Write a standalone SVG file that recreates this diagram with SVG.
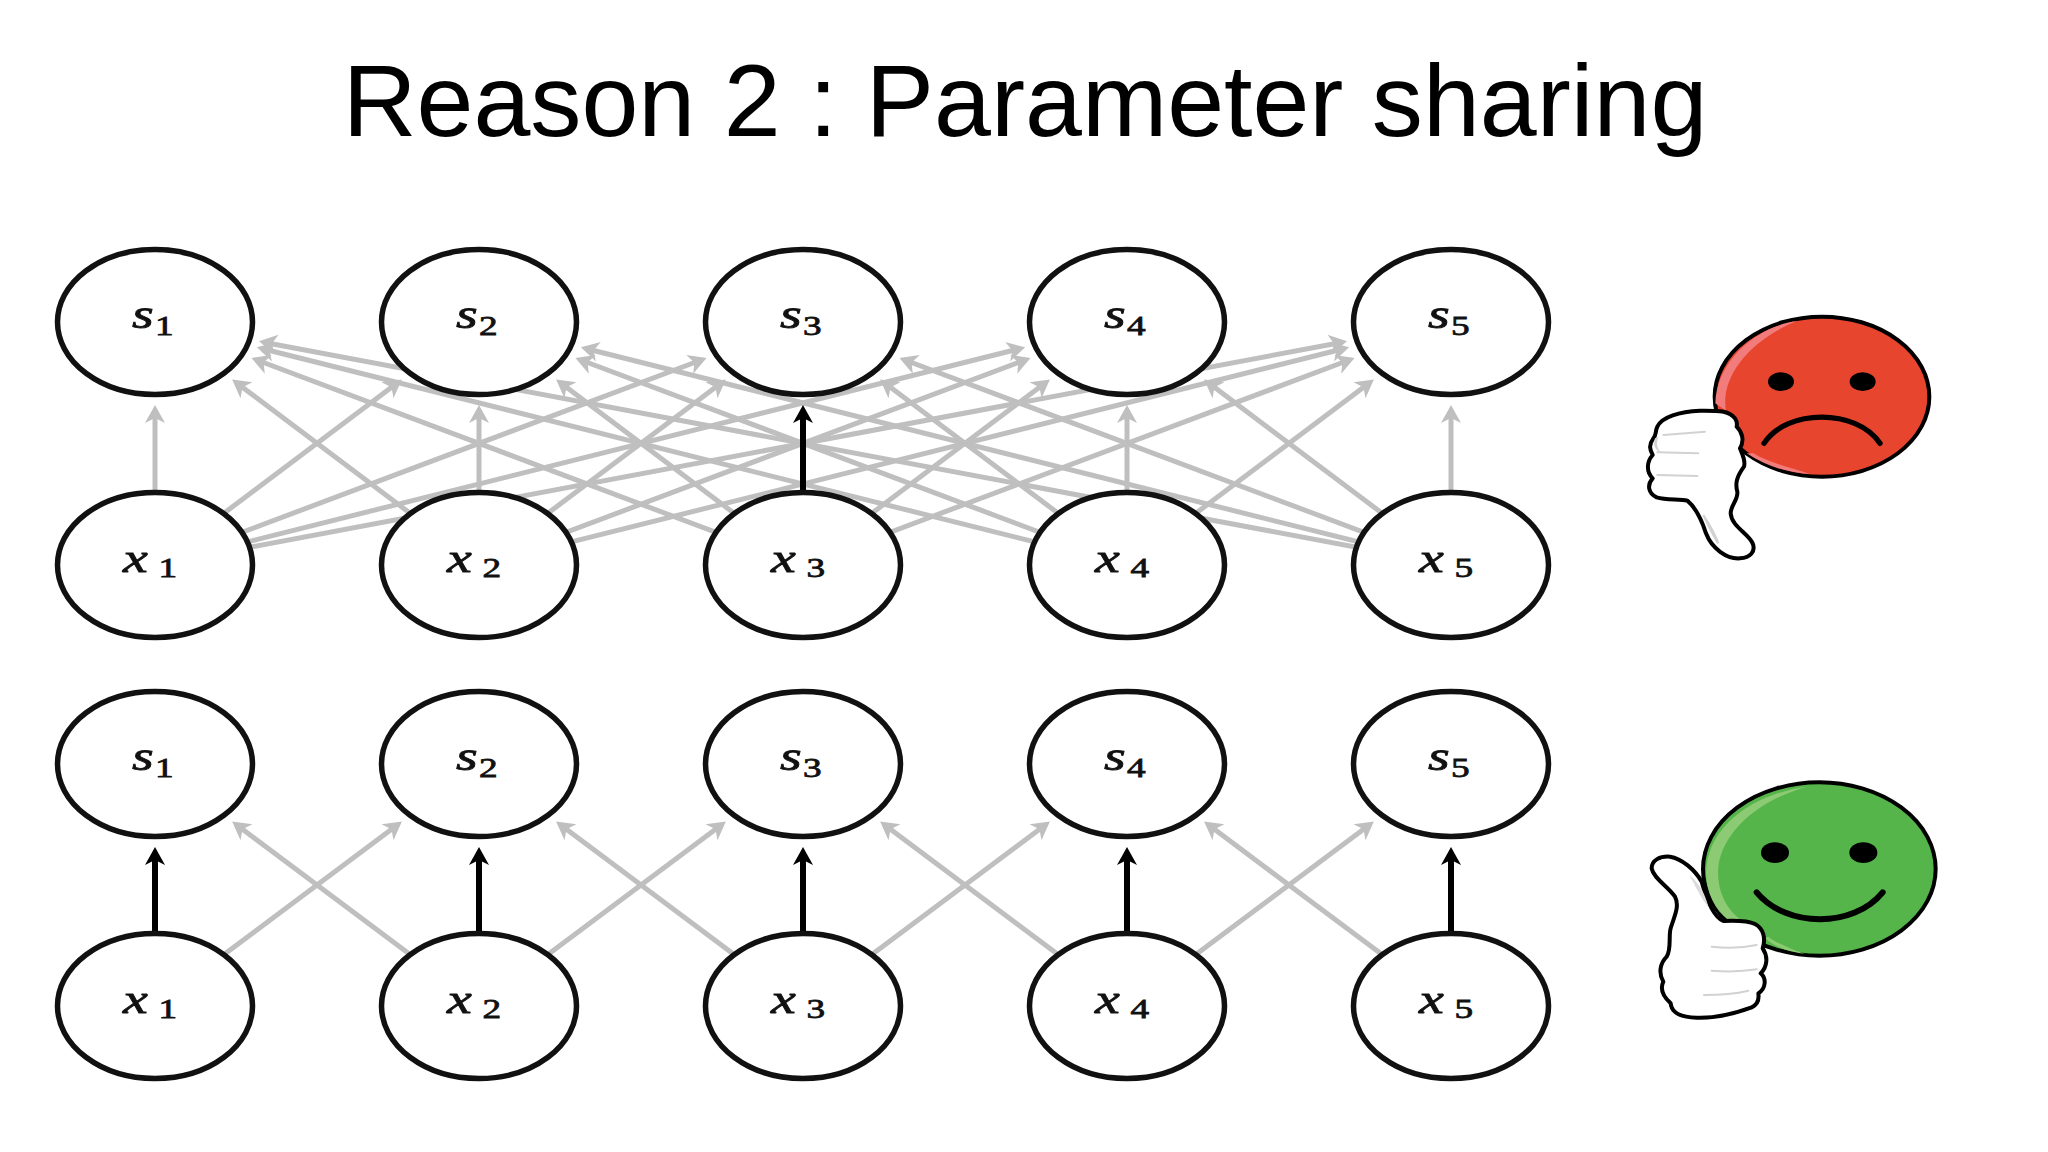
<svg xmlns="http://www.w3.org/2000/svg" width="2048" height="1152" viewBox="0 0 2048 1152">
<style>
.title{font-family:"Liberation Sans",Arial,sans-serif;font-size:102.3px;fill:#000}
.n ellipse{fill:#fff;stroke:#111;stroke-width:5.5}
.n text{font-family:"Liberation Serif","Times New Roman",serif;fill:#111;stroke:#111;stroke-width:.8}
.m{font-style:italic;font-size:42px}
.d{font-size:28px}
.g line{stroke:#bfbfbf;stroke-width:5;marker-end:url(#ag)}
.b line{stroke:#000;stroke-width:6;marker-end:url(#ab)}
.hand{fill:#fff;stroke:#000;stroke-width:12;stroke-linejoin:round}
.crease{fill:none;stroke:#d2d2d2;stroke-width:6;stroke-linecap:round}
</style>
<defs>
<marker id="ag" markerUnits="userSpaceOnUse" viewBox="-10 -11 22 22" refX="0" refY="0" markerWidth="22" markerHeight="22" orient="auto"><path d="M10,0L-8,-10L-3,0L-8,10Z" fill="#bfbfbf"/></marker>
<marker id="ab" markerUnits="userSpaceOnUse" viewBox="-10 -11 22 22" refX="0" refY="0" markerWidth="22" markerHeight="22" orient="auto"><path d="M10,0L-8,-10L-3,0L-8,10Z" fill="#000"/></marker>
</defs>
<rect width="2048" height="1152" fill="#fff"/>
<text class="title" x="1025" y="136" text-anchor="middle" id="title">Reason 2 : Parameter sharing</text>

<g id="connectors">
<g class="g">
<line x1="155" y1="565" x2="155" y2="415"/>
<line x1="479" y1="565" x2="240.1" y2="385.5"/>
<line x1="803" y1="565" x2="260.8" y2="361.5"/>
<line x1="1127" y1="565" x2="266.6" y2="349.8"/>
<line x1="1451" y1="565" x2="268.8" y2="343.2"/>
<line x1="155" y1="565" x2="393.9" y2="385.5"/>
<line x1="479" y1="565" x2="479" y2="415"/>
<line x1="803" y1="565" x2="564.1" y2="385.5"/>
<line x1="1127" y1="565" x2="584.8" y2="361.5"/>
<line x1="1451" y1="565" x2="590.6" y2="349.8"/>
<line x1="155" y1="565" x2="697.2" y2="361.5"/>
<line x1="479" y1="565" x2="717.9" y2="385.5"/>
<line x1="1127" y1="565" x2="888.1" y2="385.5"/>
<line x1="1451" y1="565" x2="908.8" y2="361.5"/>
<line x1="155" y1="565" x2="1015.4" y2="349.8"/>
<line x1="479" y1="565" x2="1021.2" y2="361.5"/>
<line x1="803" y1="565" x2="1041.9" y2="385.5"/>
<line x1="1127" y1="565" x2="1127" y2="415"/>
<line x1="1451" y1="565" x2="1212.1" y2="385.5"/>
<line x1="155" y1="565" x2="1337.2" y2="343.2"/>
<line x1="479" y1="565" x2="1339.4" y2="349.8"/>
<line x1="803" y1="565" x2="1345.2" y2="361.5"/>
<line x1="1127" y1="565" x2="1365.9" y2="385.5"/>
<line x1="1451" y1="565" x2="1451" y2="415"/>
<line x1="479" y1="1006" x2="240.1" y2="827.5"/>
<line x1="155" y1="1006" x2="393.9" y2="827.5"/>
<line x1="803" y1="1006" x2="564.1" y2="827.5"/>
<line x1="479" y1="1006" x2="717.9" y2="827.5"/>
<line x1="1127" y1="1006" x2="888.1" y2="827.5"/>
<line x1="803" y1="1006" x2="1041.9" y2="827.5"/>
<line x1="1451" y1="1006" x2="1212.1" y2="827.5"/>
<line x1="1127" y1="1006" x2="1365.9" y2="827.5"/>
</g>
<g class="b">
<line x1="803" y1="565" x2="803" y2="415"/>
<line x1="155" y1="1006" x2="155" y2="857"/>
<line x1="479" y1="1006" x2="479" y2="857"/>
<line x1="803" y1="1006" x2="803" y2="857"/>
<line x1="1127" y1="1006" x2="1127" y2="857"/>
<line x1="1451" y1="1006" x2="1451" y2="857"/>
</g>
</g>

<g id="a-s1" class="n" transform="translate(155,322)"><ellipse rx="97.5" ry="72.5"/><text transform="translate(-23,6) scale(1.33,1)"><tspan class="m">s</tspan><tspan class="d" dy="7" dx="1">1</tspan></text></g>
<g id="a-s2" class="n" transform="translate(479,322)"><ellipse rx="97.5" ry="72.5"/><text transform="translate(-23,6) scale(1.33,1)"><tspan class="m">s</tspan><tspan class="d" dy="7" dx="1">2</tspan></text></g>
<g id="a-s3" class="n" transform="translate(803,322)"><ellipse rx="97.5" ry="72.5"/><text transform="translate(-23,6) scale(1.33,1)"><tspan class="m">s</tspan><tspan class="d" dy="7" dx="1">3</tspan></text></g>
<g id="a-s4" class="n" transform="translate(1127,322)"><ellipse rx="97.5" ry="72.5"/><text transform="translate(-23,6) scale(1.33,1)"><tspan class="m">s</tspan><tspan class="d" dy="7" dx="1">4</tspan></text></g>
<g id="a-s5" class="n" transform="translate(1451,322)"><ellipse rx="97.5" ry="72.5"/><text transform="translate(-23,6) scale(1.33,1)"><tspan class="m">s</tspan><tspan class="d" dy="7" dx="1">5</tspan></text></g>
<g id="a-x1" class="n" transform="translate(155,565)"><ellipse rx="97.5" ry="72.5"/><text transform="translate(-32,7) scale(1.33,1)"><tspan class="m">x</tspan><tspan class="d" dy="5" dx="8">1</tspan></text></g>
<g id="a-x2" class="n" transform="translate(479,565)"><ellipse rx="97.5" ry="72.5"/><text transform="translate(-32,7) scale(1.33,1)"><tspan class="m">x</tspan><tspan class="d" dy="5" dx="8">2</tspan></text></g>
<g id="a-x3" class="n" transform="translate(803,565)"><ellipse rx="97.5" ry="72.5"/><text transform="translate(-32,7) scale(1.33,1)"><tspan class="m">x</tspan><tspan class="d" dy="5" dx="8">3</tspan></text></g>
<g id="a-x4" class="n" transform="translate(1127,565)"><ellipse rx="97.5" ry="72.5"/><text transform="translate(-32,7) scale(1.33,1)"><tspan class="m">x</tspan><tspan class="d" dy="5" dx="8">4</tspan></text></g>
<g id="a-x5" class="n" transform="translate(1451,565)"><ellipse rx="97.5" ry="72.5"/><text transform="translate(-32,7) scale(1.33,1)"><tspan class="m">x</tspan><tspan class="d" dy="5" dx="8">5</tspan></text></g>

<g id="b-s1" class="n" transform="translate(155,764)"><ellipse rx="97.5" ry="72.5"/><text transform="translate(-23,6) scale(1.33,1)"><tspan class="m">s</tspan><tspan class="d" dy="7" dx="1">1</tspan></text></g>
<g id="b-s2" class="n" transform="translate(479,764)"><ellipse rx="97.5" ry="72.5"/><text transform="translate(-23,6) scale(1.33,1)"><tspan class="m">s</tspan><tspan class="d" dy="7" dx="1">2</tspan></text></g>
<g id="b-s3" class="n" transform="translate(803,764)"><ellipse rx="97.5" ry="72.5"/><text transform="translate(-23,6) scale(1.33,1)"><tspan class="m">s</tspan><tspan class="d" dy="7" dx="1">3</tspan></text></g>
<g id="b-s4" class="n" transform="translate(1127,764)"><ellipse rx="97.5" ry="72.5"/><text transform="translate(-23,6) scale(1.33,1)"><tspan class="m">s</tspan><tspan class="d" dy="7" dx="1">4</tspan></text></g>
<g id="b-s5" class="n" transform="translate(1451,764)"><ellipse rx="97.5" ry="72.5"/><text transform="translate(-23,6) scale(1.33,1)"><tspan class="m">s</tspan><tspan class="d" dy="7" dx="1">5</tspan></text></g>
<g id="b-x1" class="n" transform="translate(155,1006)"><ellipse rx="97.5" ry="72.5"/><text transform="translate(-32,7) scale(1.33,1)"><tspan class="m">x</tspan><tspan class="d" dy="5" dx="8">1</tspan></text></g>
<g id="b-x2" class="n" transform="translate(479,1006)"><ellipse rx="97.5" ry="72.5"/><text transform="translate(-32,7) scale(1.33,1)"><tspan class="m">x</tspan><tspan class="d" dy="5" dx="8">2</tspan></text></g>
<g id="b-x3" class="n" transform="translate(803,1006)"><ellipse rx="97.5" ry="72.5"/><text transform="translate(-32,7) scale(1.33,1)"><tspan class="m">x</tspan><tspan class="d" dy="5" dx="8">3</tspan></text></g>
<g id="b-x4" class="n" transform="translate(1127,1006)"><ellipse rx="97.5" ry="72.5"/><text transform="translate(-32,7) scale(1.33,1)"><tspan class="m">x</tspan><tspan class="d" dy="5" dx="8">4</tspan></text></g>
<g id="b-x5" class="n" transform="translate(1451,1006)"><ellipse rx="97.5" ry="72.5"/><text transform="translate(-32,7) scale(1.33,1)"><tspan class="m">x</tspan><tspan class="d" dy="5" dx="8">5</tspan></text></g>

<g id="sad" transform="translate(1600,290) scale(0.33333)">
<ellipse cx="666" cy="320" rx="322" ry="240" fill="#e8452f" stroke="#000" stroke-width="12"/>
<path d="M590,93C470,110 350,210 346,340L378,362C360,260 450,150 590,93Z" fill="#f27c7c"/>
<path d="M440,490C500,530 560,547 630,552C560,530 500,515 460,490Z" fill="#f27c7c"/>
<ellipse cx="543" cy="275" rx="39" ry="28"/>
<ellipse cx="788" cy="275" rx="39" ry="28"/>
<path d="M492,460C560,355 770,355 840,460" fill="none" stroke="#000" stroke-width="16" stroke-linecap="round"/>
<path class="hand" d="M405,385C385,360 350,362 300,362C240,365 185,380 172,410C165,425 170,435 160,445C145,465 150,480 158,495C140,515 138,545 158,565C140,585 145,610 170,622C200,632 240,625 262,632C290,655 305,690 318,730C335,775 380,808 420,805C450,803 468,785 458,760C445,730 395,710 392,670C392,645 415,630 412,605C405,580 410,560 432,530C438,510 425,490 420,475C435,450 425,425 410,410C412,400 410,392 405,385Z"/>
<path class="crease" d="M190,435L315,425M172,487L295,490M172,555L292,558"/>
<path d="M165,445C158,465 165,480 185,490C170,475 168,460 175,440Z" fill="#d2d2d2"/>
<path d="M310,675C330,705 345,730 355,760C340,740 325,705 310,675Z" fill="#d2d2d2" stroke="#d2d2d2" stroke-width="6"/>
</g>

<g id="happy" transform="translate(1600,760) scale(0.33333)">
<ellipse cx="658" cy="327" rx="349" ry="260" fill="#55b54a" stroke="#000" stroke-width="12"/>
<path d="M620,80C470,100 322,190 318,340C320,400 345,450 385,480L420,478C370,440 350,380 355,320C370,210 480,120 620,80Z" fill="#8ccb73"/>
<path d="M495,535C530,565 570,575 615,582C570,565 530,550 505,530Z" fill="#8ccb73"/>
<ellipse cx="525" cy="278" rx="42" ry="31"/>
<ellipse cx="790" cy="278" rx="42" ry="31"/>
<path d="M470,397C560,505 760,505 848,397" fill="none" stroke="#000" stroke-width="18" stroke-linecap="round"/>
<path class="hand" d="M370,483C400,482 440,480 465,492C490,505 498,535 488,565C505,590 502,620 482,640C500,655 498,685 475,700C478,720 470,735 455,742C400,762 340,775 290,773C245,772 215,760 212,730C190,710 178,690 190,665C175,640 180,610 200,590C215,565 205,530 212,505C222,470 240,440 225,410C205,380 160,355 155,325C155,300 180,288 210,290C245,295 285,330 305,365C320,420 340,470 370,483Z"/>
<path class="crease" d="M335,560Q410,568 470,555M335,632Q410,638 470,628M312,705Q390,705 445,692"/>
<path d="M268,345C285,375 305,420 325,440C315,400 295,365 268,345Z" fill="#dcdcdc"/>
</g>
</svg>
